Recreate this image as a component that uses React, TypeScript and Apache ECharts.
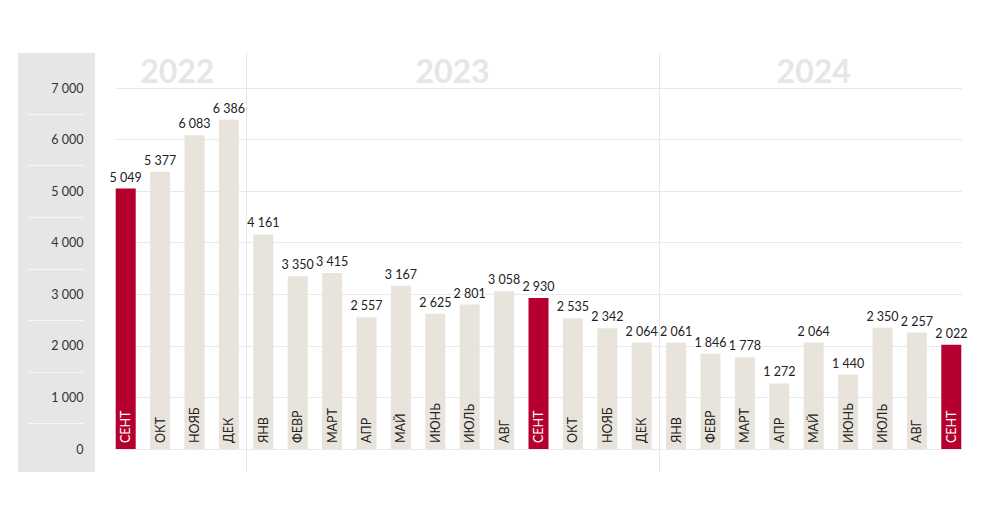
import React, { useEffect, useRef } from "react";
import * as echarts from "echarts";

const categories = [
  "СЕНТ", "ОКТ", "НОЯБ", "ДЕК",
  "ЯНВ", "ФЕВР", "МАРТ", "АПР", "МАЙ", "ИЮНЬ", "ИЮЛЬ", "АВГ", "СЕНТ", "ОКТ", "НОЯБ", "ДЕК",
  "ЯНВ", "ФЕВР", "МАРТ", "АПР", "МАЙ", "ИЮНЬ", "ИЮЛЬ", "АВГ", "СЕНТ",
];
const values = [
  5049, 5377, 6083, 6386,
  4161, 3350, 3415, 2557, 3167, 2625, 2801, 3058, 2930, 2535, 2342, 2064,
  2061, 1846, 1778, 1272, 2064, 1440, 2350, 2257, 2022,
];
const highlighted = [0, 12, 24];
const years = ["2022", "2023", "2024"];
const yearFirst = [0, 4, 16];
const yearLast = [3, 15, 24];
const halfTicks = [500, 1500, 2500, 3500, 4500, 5500, 6500];

const FONT = "Lato";
const RED = "#b5002f";
const BEIGE = "#e8e4dc";
const fmt = (v: number) => String(v).replace(/\B(?=(\d{3})+(?!\d))/g, " ");

export default function App() {
  const ref = useRef<HTMLDivElement>(null);
  useEffect(() => {
    const chart = echarts.init(ref.current!, null, { renderer: "svg" });
    const barData = values.map((v, i) => ({
      value: v,
      itemStyle: { color: highlighted.includes(i) ? RED : BEIGE },
    }));
    const labelData = values.map((v, i) => ({
      value: v,
      label: { color: highlighted.includes(i) ? "#ffffff" : "#222222" },
    }));
    chart.setOption({
      animation: false,
      grid: [
        { left: 108.5, right: 31.5, top: 88, bottom: 83 },
        { left: 116, right: 38, top: 88, bottom: 83 },
      ],
      xAxis: [
        {
          type: "category",
          gridIndex: 0,
          data: categories,
          axisLine: { show: false },
          axisTick: { show: false },
          axisLabel: { show: false },
        },
        { type: "value", gridIndex: 1, min: 0, max: 1, show: false },
      ],
      yAxis: [
        {
          type: "value",
          gridIndex: 0,
          min: 0,
          max: 7000,
          interval: 1000,
          axisLine: { show: false },
          axisTick: { show: false },
          splitLine: { show: false },
          axisLabel: {
            formatter: (v: number) => fmt(v),
            margin: 25,
            color: "#333333",
            fontSize: 12.5,
            fontFamily: FONT,
          },
        },
        {
          type: "value",
          gridIndex: 1,
          min: 0,
          max: 7000,
          interval: 1000,
          axisLine: { show: false },
          axisTick: { show: false },
          axisLabel: { show: false },
          splitLine: { show: true, lineStyle: { color: "#e9e9e9", width: 1 } },
        },
      ],
      series: [
        {
          type: "bar",
          xAxisIndex: 0,
          yAxisIndex: 0,
          data: barData,
          barWidth: 20,
          barGap: "-100%",
          label: {
            show: true,
            position: "top",
            distance: 5,
            formatter: (p: any) => fmt(p.value),
            color: "#222222",
            fontSize: 12.5,
            fontFamily: FONT,
          },
        },
        {
          type: "bar",
          xAxisIndex: 0,
          yAxisIndex: 0,
          data: labelData,
          barWidth: 20,
          barGap: "-100%",
          itemStyle: { color: "rgba(0,0,0,0)" },
          label: {
            show: true,
            position: "insideBottom",
            rotate: 90,
            align: "left",
            verticalAlign: "middle",
            distance: 6,
            formatter: (p: any) => categories[p.dataIndex],
            fontSize: 12.5,
            fontFamily: FONT,
          },
        },
      ],
    });

    const xAt = (i: number) => {
      const r = chart.convertToPixel({ gridIndex: 0 }, [i, 0]) as number[];
      return r[0];
    };
    const yAt = (v: number) => {
      const r = chart.convertToPixel({ gridIndex: 0 }, [0, v]) as number[];
      return r[1];
    };
    const graphics: any[] = [
      {
        type: "rect",
        z: -10,
        shape: { x: 18, y: 53, width: 77, height: 419 },
        style: { fill: "#e6e6e6" },
        silent: true,
      },
    ];
    halfTicks.forEach((v) => {
      const y = Math.round(yAt(v)) + 0.5;
      graphics.push({
        type: "line",
        z: -9,
        shape: { x1: 28, y1: y, x2: 84, y2: y },
        style: { stroke: "#f6f6f6", lineWidth: 1 },
        silent: true,
      });
    });
    [3, 15].forEach((i) => {
      const x = Math.round((xAt(i) + xAt(i + 1)) / 2) + 0.5;
      graphics.push({
        type: "line",
        z: -9,
        shape: { x1: x, y1: 53, x2: x, y2: 472 },
        style: { stroke: "#e6e6e6", lineWidth: 1 },
        silent: true,
      });
    });
    years.forEach((yr, k) => {
      const cx = (xAt(yearFirst[k]) + xAt(yearLast[k])) / 2;
      graphics.push({
        type: "text",
        z: -9,
        x: cx,
        y: 70,
        style: {
          text: yr,
          fill: "#e6e6e6",
          font: `bold 32px ${FONT}`,
          textAlign: "center",
          textVerticalAlign: "middle",
        },
        silent: true,
      });
    });
    chart.setOption({ graphic: graphics });
    return () => chart.dispose();
  }, []);
  return (
    <div
      ref={ref}
      style={{ position: "fixed", left: 0, top: 0, width: 1000, height: 532, background: "#ffffff" }}
    />
  );
}
